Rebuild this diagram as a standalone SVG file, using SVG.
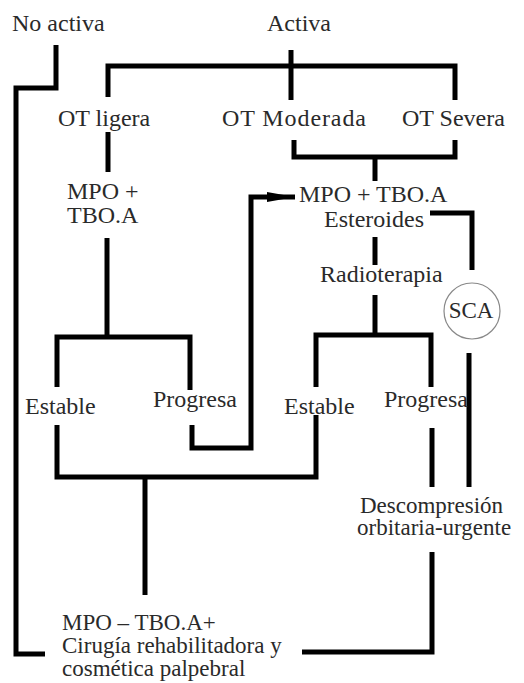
<svg xmlns="http://www.w3.org/2000/svg" width="524" height="683" viewBox="0 0 524 683">
<style>
.c{fill:none;stroke:#000;stroke-width:5;stroke-linejoin:miter;stroke-linecap:butt}
.sca{fill:none;stroke:#888;stroke-width:1.2}
</style>
<defs>
<marker id="ah" markerUnits="userSpaceOnUse" markerWidth="30" markerHeight="12" refX="28" refY="6" orient="auto">
<path d="M0,1 L28,6 L0,11 Z" fill="#000"/>
</marker>
</defs>
<rect width="524" height="683" fill="#fff"/>
<g id="connectors">
<path class="c" d="M56,45 V88 H16 V654 H45"/>
<path class="c" d="M108,97 V66 H455 V100"/>
<path class="c" d="M291,50 V100"/>
<path class="c" d="M108,132 V172"/>
<path class="c" d="M107,238 V337"/>
<path class="c" d="M57,387 V337 H190 V390"/>
<path class="c" d="M57,425 V477 H316 V415"/>
<path class="c" d="M145,477 V595"/>
<path class="c" d="M192,425 V448 H251 V197 H295" marker-end="url(#ah)"/>
<path class="c" d="M294,140 V157 H455 V140"/>
<path class="c" d="M375,157 V181"/>
<path class="c" d="M430,213 H472 V270"/>
<path class="c" d="M375,237 V265"/>
<path class="c" d="M375,295 V335"/>
<path class="c" d="M316,387 V335 H431 V387"/>
<path class="c" d="M469,353 V487"/>
<path class="c" d="M432,428 V487"/>
<path class="c" d="M432,552 V652 H302"/>
</g>
<g id="n_noactiva"><text x="12" y="31" font-family="Liberation Serif" font-size="24" fill="#2a2a2a">No activa</text></g>
<g id="n_activa"><text x="267" y="31" font-family="Liberation Serif" font-size="24" fill="#2a2a2a">Activa</text></g>
<g id="n_otligera"><text x="58" y="126" font-family="Liberation Serif" font-size="24" fill="#2a2a2a">OT ligera</text></g>
<g id="n_otmoderada"><text x="222" y="126" font-family="Liberation Serif" font-size="24" fill="#2a2a2a" textLength="144" lengthAdjust="spacing">OT Moderada</text></g>
<g id="n_otsevera"><text x="402" y="126" font-family="Liberation Serif" font-size="24" fill="#2a2a2a">OT Severa</text></g>
<g id="n_mpotboa"><text x="67" y="199" font-family="Liberation Serif" font-size="24" fill="#2a2a2a">MPO +</text><text x="67" y="223" font-family="Liberation Serif" font-size="24" fill="#2a2a2a">TBO.A</text></g>
<g id="n_mpoester"><text x="299" y="202" font-family="Liberation Serif" font-size="24" fill="#2a2a2a">MPO + TBO.A</text><text x="324" y="227" font-family="Liberation Serif" font-size="24" fill="#2a2a2a">Esteroides</text></g>
<g id="n_radio"><text x="320" y="282" font-family="Liberation Serif" font-size="24" fill="#2a2a2a">Radioterapia</text></g>
<g id="n_sca"><circle class="sca" cx="472" cy="311" r="28"/><text x="471" y="318" text-anchor="middle" font-family="Liberation Serif" font-size="23" fill="#2a2a2a">SCA</text></g>
<g id="n_estable1"><text x="25" y="414" font-family="Liberation Serif" font-size="24" fill="#2a2a2a">Estable</text></g>
<g id="n_progresa1"><text x="153" y="407" font-family="Liberation Serif" font-size="24" fill="#2a2a2a">Progresa</text></g>
<g id="n_estable2"><text x="284" y="414" font-family="Liberation Serif" font-size="24" fill="#2a2a2a">Estable</text></g>
<g id="n_progresa2"><text x="384" y="407" font-family="Liberation Serif" font-size="24" fill="#2a2a2a">Progresa</text></g>
<g id="n_descomp"><text x="360" y="513" font-family="Liberation Serif" font-size="23" fill="#2a2a2a">Descompresión</text><text x="357" y="535" font-family="Liberation Serif" font-size="23" fill="#2a2a2a">orbitaria-urgente</text></g>
<g id="n_cirugia"><text x="62" y="630" font-family="Liberation Serif" font-size="23" fill="#2a2a2a">MPO – TBO.A+</text><text x="62" y="653" font-family="Liberation Serif" font-size="23" fill="#2a2a2a">Cirugía rehabilitadora y</text><text x="62" y="676" font-family="Liberation Serif" font-size="23" fill="#2a2a2a">cosmética palpebral</text></g>
</svg>
